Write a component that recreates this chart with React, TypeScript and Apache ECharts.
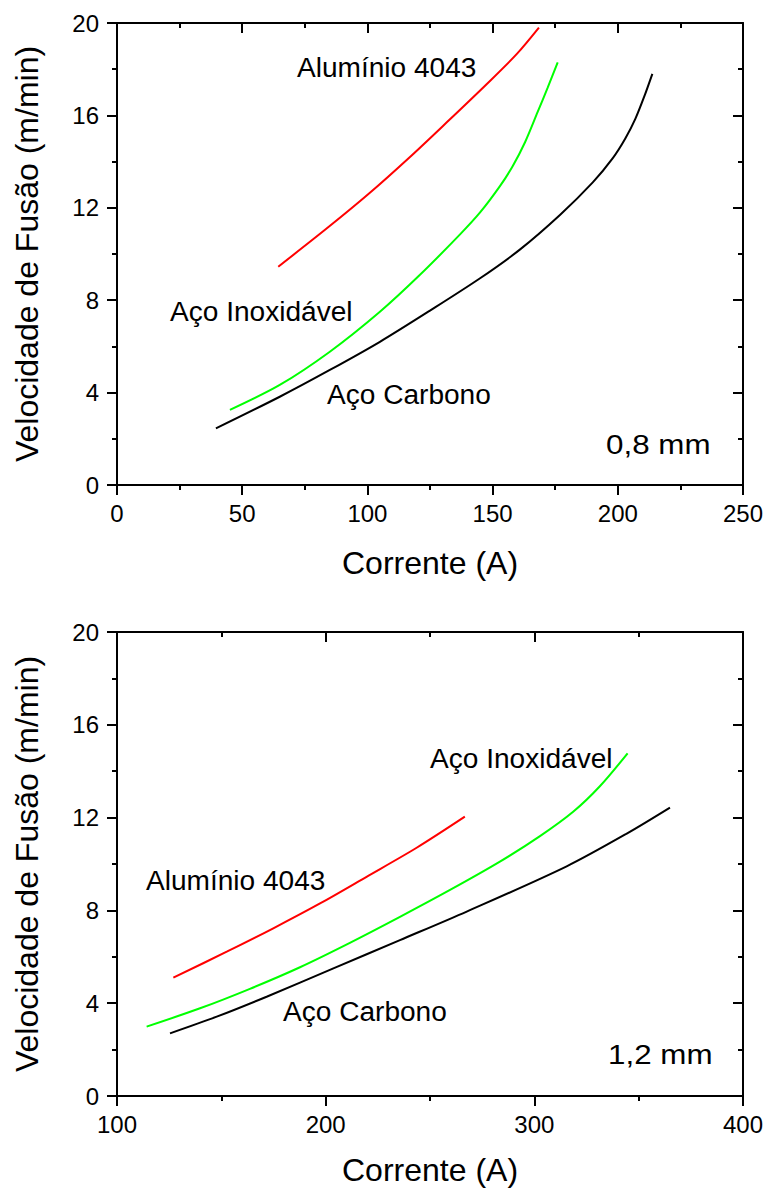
import React, { useEffect, useRef } from "react";
import * as echarts from "echarts";

// Top panel (0,8 mm)
const topAlI = [64.4, 83.7, 101, 117, 131.7, 147.6, 159.6, 168.5];
const topAlV = [9.45, 11.1, 12.65, 14.2, 15.7, 17.35, 18.65, 19.8];
const topInoxI = [45.1, 65, 85, 105, 121, 137, 145, 153, 158, 163, 168, 172, 176];
const topInoxV = [3.25, 4.33, 5.77, 7.5, 9.1, 10.85, 11.8, 12.95, 13.8, 14.85, 16.15, 17.2, 18.3];
const topCarbI = [39.5, 65, 85, 105, 125, 145, 161, 177, 190, 198, 203, 207, 210.5, 213.8];
const topCarbV = [2.45, 3.82, 4.98, 6.2, 7.55, 8.95, 10.2, 11.7, 13.1, 14.15, 15.0, 15.85, 16.8, 17.8];

// Bottom panel (1,2 mm)
const botAlI = [127, 152.6, 174.9, 197.3, 219.6, 243.6, 266.7];
const botAlV = [5.1, 6.22, 7.23, 8.3, 9.45, 10.7, 12.04];
const botInoxI = [114.2, 139.8, 163.7, 187.7, 211.6, 235.6, 259.6, 283.5, 302.7, 318.6, 331.4, 344.7];
const botInoxV = [2.99, 3.78, 4.62, 5.55, 6.6, 7.72, 8.88, 10.1, 11.2, 12.25, 13.35, 14.77];
const botCarbI = [125.4, 147.8, 171.7, 203.7, 235.6, 267.6, 315.5, 344.3, 365];
const botCarbV = [2.7, 3.42, 4.28, 5.5, 6.72, 7.95, 9.9, 11.31, 12.43];

const xTopRange = { min: 0, max: 250, interval: 50 };
const xBotRange = { min: 100, max: 400, interval: 100 };
const yRange = { min: 0, max: 20, interval: 4 };

const xTitle = "Corrente (A)";
const yTitle = "Velocidade de Fusão (m/min)";

const FONT = "Liberation Sans, Arial, sans-serif";

const zip = (xs: number[], ys: number[]) => xs.map((x, i) => [x, ys[i]]);

const lineStyleAxis = { color: "#000", width: 2 };

function mainAxis(range: any, gridIndex: number, extra: any) {
  return {
    type: "value",
    gridIndex,
    min: range.min,
    max: range.max,
    interval: range.interval,
    axisLine: { show: true, onZero: false, lineStyle: lineStyleAxis },
    axisTick: { show: true, inside: false, length: 10, lineStyle: { color: "#000", width: 2 } },
    minorTick: { show: true, splitNumber: 2, length: 5, lineStyle: { color: "#000", width: 2 } },
    splitLine: { show: false },
    minorSplitLine: { show: false },
    axisLabel: { show: true, color: "#000", fontSize: 24, fontFamily: FONT },
    nameTextStyle: { color: "#000", fontSize: 32, fontFamily: FONT },
    ...extra,
  };
}

function mirrorAxis(range: any, gridIndex: number, position: string) {
  return {
    type: "value",
    gridIndex,
    position,
    min: range.min,
    max: range.max,
    interval: range.interval,
    axisLine: { show: true, onZero: false, lineStyle: lineStyleAxis },
    axisTick: { show: true, inside: true, length: 10, lineStyle: { color: "#000", width: 2 } },
    minorTick: { show: true, splitNumber: 2, length: 5, lineStyle: { color: "#000", width: 2 } },
    splitLine: { show: false },
    minorSplitLine: { show: false },
    axisLabel: { show: false },
  };
}

function series(name: string, data: number[][], color: string, gi: number) {
  return {
    type: "line",
    name,
    xAxisIndex: gi * 2,
    yAxisIndex: gi * 2,
    data,
    showSymbol: false,
    symbol: "none",
    smooth: 0.3,
    lineStyle: { color, width: 2 },
    silent: true,
  };
}

function label(text: string, x: number, y: number, size = 27, sx = 1.04) {
  return {
    type: "text",
    x,
    y,
    scaleX: sx,
    style: {
      text,
      fill: "#000",
      font: `${size}px ${FONT}`,
      textAlign: "left",
      textVerticalAlign: "middle",
      verticalAlign: "middle",
    },
  };
}

export default function App() {
  const ref = useRef<HTMLDivElement>(null);
  useEffect(() => {
    if (!ref.current) return;
    const chart = echarts.init(ref.current, undefined, { renderer: "svg" });
    const option: any = {
      animation: false,
      backgroundColor: "#fff",
      grid: [
        { left: 117, top: 23, width: 626, height: 462, containLabel: false, outerBoundsMode: "none" },
        { left: 117, top: 632, width: 626, height: 464, containLabel: false, outerBoundsMode: "none" },
      ],
      xAxis: [
        mainAxis(xTopRange, 0, {
          position: "bottom",
          name: xTitle,
          nameLocation: "middle",
          nameGap: 62,
          axisLabel: { show: true, color: "#000", fontSize: 24, fontFamily: FONT, margin: 16 },
        }),
        mirrorAxis(xTopRange, 0, "top"),
        mainAxis(xBotRange, 1, {
          position: "bottom",
          name: xTitle,
          nameLocation: "middle",
          nameGap: 58,
          axisLabel: { show: true, color: "#000", fontSize: 24, fontFamily: FONT, margin: 16 },
        }),
        mirrorAxis(xBotRange, 1, "top"),
      ],
      yAxis: [
        mainAxis(yRange, 0, {
          position: "left",
          name: yTitle,
          nameLocation: "middle",
          nameGap: 74,
          axisLabel: { show: true, color: "#000", fontSize: 24, fontFamily: FONT, margin: 18 },
        }),
        mirrorAxis(yRange, 0, "right"),
        mainAxis(yRange, 1, {
          position: "left",
          name: yTitle,
          nameLocation: "middle",
          nameGap: 74,
          axisLabel: { show: true, color: "#000", fontSize: 24, fontFamily: FONT, margin: 18 },
        }),
        mirrorAxis(yRange, 1, "right"),
      ],
      series: [
        series("Alumínio 4043", zip(topAlI, topAlV), "#ff0000", 0),
        series("Aço Inoxidável", zip(topInoxI, topInoxV), "#00ff00", 0),
        series("Aço Carbono", zip(topCarbI, topCarbV), "#000000", 0),
        series("Alumínio 4043", zip(botAlI, botAlV), "#ff0000", 1),
        series("Aço Inoxidável", zip(botInoxI, botInoxV), "#00ff00", 1),
        series("Aço Carbono", zip(botCarbI, botCarbV), "#000000", 1),
      ],
      graphic: [
        label("Alumínio 4043", 297, 68),
        label("Aço Inoxidável", 170, 312),
        label("Aço Carbono", 327, 395),
        label("0,8 mm", 606, 444, 28, 1.12),
        label("Aço Inoxidável", 430, 759),
        label("Alumínio 4043", 146, 881),
        label("Aço Carbono", 283, 1012),
        label("1,2 mm", 608, 1054, 28, 1.12),
      ],
    };
    chart.setOption(option);
    return () => chart.dispose();
  }, []);
  return (
    <div
      ref={ref}
      style={{ position: "absolute", left: 0, top: 0, width: 768, height: 1189, background: "#fff" }}
    />
  );
}
